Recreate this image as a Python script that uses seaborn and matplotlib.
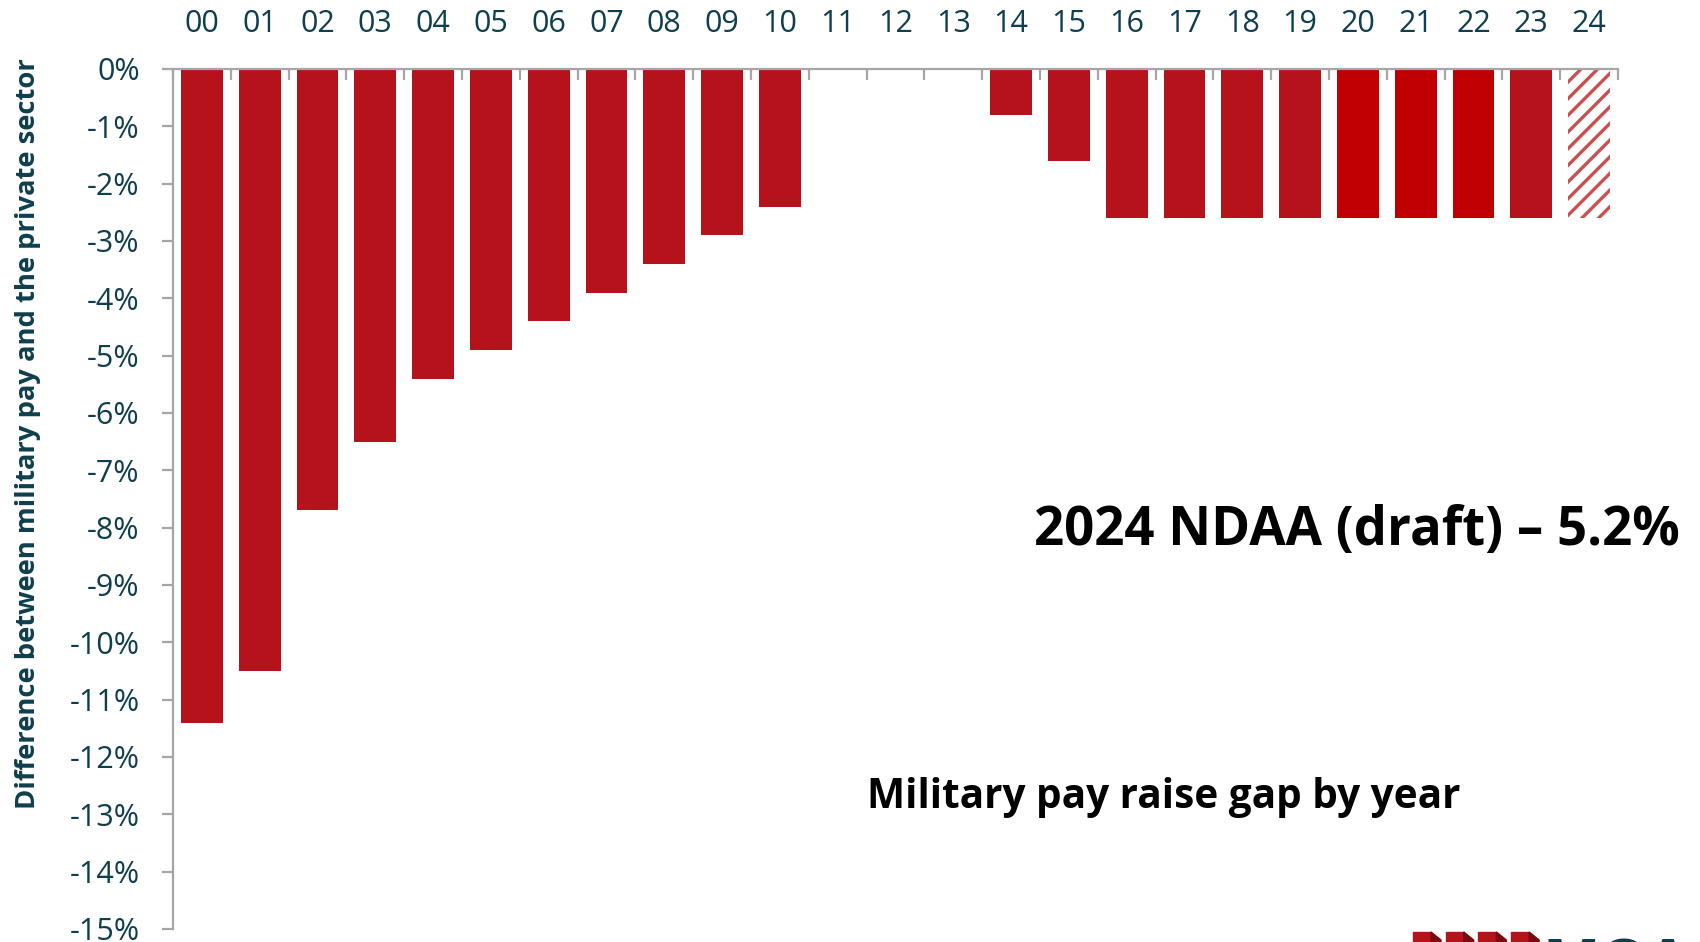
import numpy as np
import pandas as pd
import matplotlib
matplotlib.use("Agg")
import matplotlib.pyplot as plt
import seaborn as sns
from matplotlib.patches import Rectangle, Polygon

# ---- data ----
years = ['00', '01', '02', '03', '04', '05', '06', '07', '08', '09', '10', '11',
         '12', '13', '14', '15', '16', '17', '18', '19', '20', '21', '22', '23', '24']
gap = [-11.4, -10.5, -7.7, -6.5, -5.4, -4.9, -4.4, -3.9, -3.4, -2.9, -2.4, 0.0,
       0.0, 0.0, -0.8, -1.6, -2.6, -2.6, -2.6, -2.6, -2.6, -2.6, -2.6, -2.6, -2.6]
bright_years = ['20', '21', '22']
draft_year = '24'
y_ticks = list(range(0, -16, -1))
y_label = "Difference between military pay and the private sector"
title_main = "2024 NDAA (draft) \u2013 5.2%"
subtitle = "Military pay raise gap by year"

BASE = '#B5121B'
BRIGHT = '#C00000'
HATCH = '#C9504F'
TEAL = '#0F3E4C'
GRAY = '#A6A6A6'

sns.set_theme(style="white")
plt.rcParams['font.family'] = ['Open Sans', 'DejaVu Sans']
plt.rcParams['hatch.linewidth'] = 2.4

df = pd.DataFrame({"year": years, "gap": gap})
palette = {y: (BRIGHT if y in bright_years else BASE) for y in years}

fig = plt.figure(figsize=(17, 9.42), dpi=100)
ax = fig.add_axes([173 / 1700, 1 - 929 / 942, (1618 - 173) / 1700, (929 - 69) / 942])

sns.barplot(data=df, x="year", y="gap", hue="year", palette=palette, legend=False,
            width=0.72, ax=ax, saturation=1, linewidth=0)

# hatched draft bar
for patch, yr in zip(ax.patches, years):
    if yr == draft_year:
        patch.set_facecolor('white')
        patch.set_edgecolor(HATCH)
        patch.set_hatch('//')
        patch.set_linewidth(0)

ax.set_xlim(-0.5, len(years) - 0.5)
ax.set_ylim(-15, 0)

# spines
for s in ['right', 'bottom']:
    ax.spines[s].set_visible(False)
for s in ['left', 'top']:
    ax.spines[s].set_color(GRAY)
    ax.spines[s].set_linewidth(1.6)

# x axis on top
ax.xaxis.set_ticks_position('top')
ax.xaxis.set_label_position('top')
ax.set_xticks(range(len(years)))
ax.set_xticklabels(years)
ax.set_xticks(np.arange(-0.5, len(years), 1.0), minor=True)
ax.tick_params(axis='x', which='major', length=0, pad=21.5, labelsize=22, labelcolor=TEAL)
ax.tick_params(axis='x', which='minor', direction='in', length=8, width=1.6, color=GRAY,
               top=True, bottom=False)
ax.set_xlabel("")

ax.set_yticks(y_ticks)
ax.set_yticklabels([f"{v}%" for v in y_ticks])
ax.tick_params(axis='y', which='major', direction='out', length=8, width=1.6, color=GRAY,
               pad=16, labelsize=22, labelcolor=TEAL, left=True)
ax.set_ylabel("")

fig.text(28 / 1700, 1 - 434 / 942, y_label, rotation=90, ha='center', va='center',
         fontsize=19.7, fontweight='bold', color=TEAL)

fig.text(1357 / 1700, 1 - 531 / 942, title_main, ha='center', va='center',
         fontsize=38, fontweight='bold', color='black')
fig.text(1164 / 1700, 1 - 797 / 942, subtitle, ha='center', va='center',
         fontsize=29.2, fontweight='bold', color='black')

# partial logo at bottom right (cropped in the original)
for i in range(4):
    x0 = 1413 + i * 32.7
    fig.patches.append(Rectangle((x0 / 1700, 0), 18 / 1700, (942 - 932) / 942,
                                 transform=fig.transFigure, color=BASE, zorder=5))
    fig.patches.append(Polygon([((x0 + 18) / 1700, (942 - 932) / 942),
                                ((x0 + 28) / 1700, (942 - 940) / 942),
                                ((x0 + 28) / 1700, 0), ((x0 + 18) / 1700, 0)],
                               closed=True, transform=fig.transFigure,
                               color='#7A0A10', zorder=5))
fig.text(1543 / 1700, 1 - 938 / 942, "MOAA", ha='left', va='top', fontsize=44,
         fontweight='bold', color=TEAL)

fig.savefig("out.png", dpi=100)
